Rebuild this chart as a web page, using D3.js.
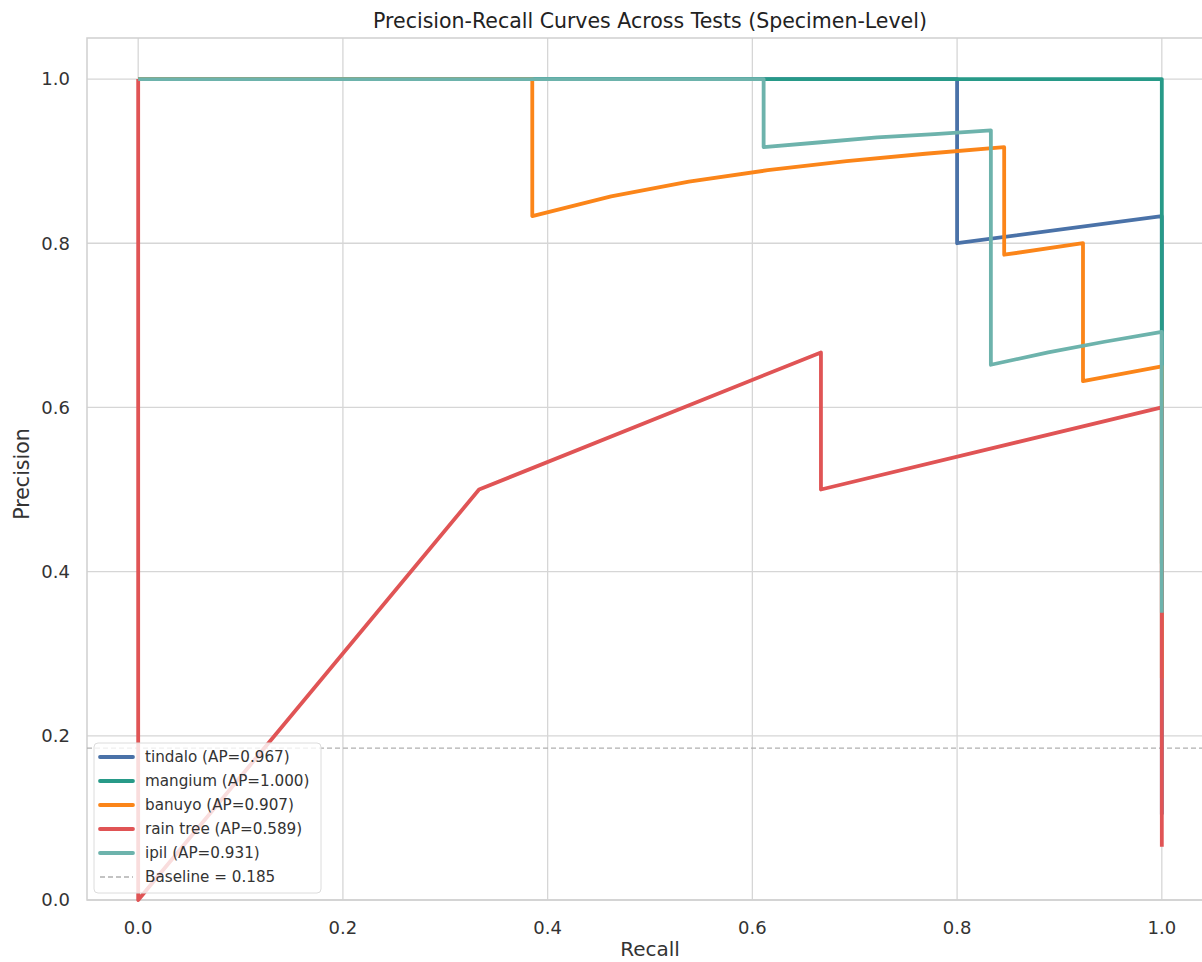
<!DOCTYPE html>
<html>
<head>
<meta charset="utf-8">
<script src="https://cdn.jsdelivr.net/npm/d3@7"></script>
<style>
  body { margin: 0; background: #fff; }
  text { font-family: "DejaVu Sans", sans-serif; }
</style>
</head>
<body>
<svg></svg>
<script>
// series: recall / precision pairs
let tindaloRecall    = [ 1.0, 1.0, 0.8, 0.8, 0.0 ]
let tindaloPrecision = [ 0.104, 0.833, 0.8, 1.0, 1.0 ]

let mangiumRecall    = [ 1.0, 1.0, 0.0 ]
let mangiumPrecision = [ 0.41, 1.0, 1.0 ]

let banuyoRecall    = [ 1.0, 1.0, 0.923, 0.923, 0.846, 0.846, 0.769, 0.692, 0.615, 0.538, 0.462, 0.385, 0.385, 0.0 ]
let banuyoPrecision = [ 0.27, 0.65, 0.632, 0.8, 0.786, 0.917, 0.909, 0.9, 0.889, 0.875, 0.857, 0.833, 1.0, 1.0 ]

let rainRecall    = [ 1.0, 1.0, 0.667, 0.667, 0.333, 0.0, 0.0 ]
let rainPrecision = [ 0.065, 0.6, 0.5, 0.667, 0.5, 0.0, 1.0 ]

let ipilRecall    = [ 1.0, 1.0, 0.944, 0.889, 0.833, 0.833, 0.778, 0.722, 0.667, 0.611, 0.611, 0.0 ]
let ipilPrecision = [ 0.35, 0.692, 0.68, 0.667, 0.652, 0.9375, 0.933, 0.929, 0.923, 0.917, 1.0, 1.0 ]

let seriesNames  = [ 'tindalo', 'mangium', 'banuyo', 'rain tree', 'ipil' ]
let seriesAP     = [ 0.967, 1.000, 0.907, 0.589, 0.931 ]
let seriesColors = [ '#4a72a8', '#279a88', '#fb8519', '#e05455', '#6db3ac' ]
let recalls      = [ tindaloRecall, mangiumRecall, banuyoRecall, rainRecall, ipilRecall ]
let precisions   = [ tindaloPrecision, mangiumPrecision, banuyoPrecision, rainPrecision, ipilPrecision ]

let baseline = 0.185
let ticks = [ 0.0, 0.2, 0.4, 0.6, 0.8, 1.0 ]

let width = 1202
let height = 962
let plotLeft = 87, plotRight = 1213, plotTop = 38, plotBottom = 900

const xScale =
d3.scaleLinear()
  .domain( [ -0.05, 1.05 ] )
  .range( [ plotLeft, plotRight ] )

const yScale =
d3.scaleLinear()
  .domain( [ 0, 1.05 ] )
  .range( [ plotBottom, plotTop ] )

let chart =
d3.select( 'svg' )
  .attr( 'width', width )
  .attr( 'height', height )

// grid
chart.append( 'g' )
  .selectAll( 'line' )
  .data( ticks )
  .enter()
  .append( 'line' )
  .attr( 'x1', d => xScale( d ) )
  .attr( 'x2', d => xScale( d ) )
  .attr( 'y1', plotTop )
  .attr( 'y2', plotBottom )
  .attr( 'stroke', '#d6d6d6' )
  .attr( 'stroke-width', 1.3 )

chart.append( 'g' )
  .selectAll( 'line' )
  .data( ticks )
  .enter()
  .append( 'line' )
  .attr( 'x1', plotLeft )
  .attr( 'x2', plotRight )
  .attr( 'y1', d => yScale( d ) )
  .attr( 'y2', d => yScale( d ) )
  .attr( 'stroke', '#d6d6d6' )
  .attr( 'stroke-width', 1.3 )

// spines
chart.append( 'rect' )
  .attr( 'x', plotLeft )
  .attr( 'y', plotTop )
  .attr( 'width', plotRight - plotLeft )
  .attr( 'height', plotBottom - plotTop )
  .attr( 'fill', 'none' )
  .attr( 'stroke', '#d0d0d0' )
  .attr( 'stroke-width', 1.5 )

// tick labels
chart.append( 'g' )
  .selectAll( 'text' )
  .data( ticks )
  .enter()
  .append( 'text' )
  .text( d => d.toFixed( 1 ) )
  .attr( 'x', d => xScale( d ) )
  .attr( 'y', plotBottom + 34 )
  .attr( 'text-anchor', 'middle' )
  .attr( 'font-size', 18 )
  .attr( 'fill', '#333' )

chart.append( 'g' )
  .selectAll( 'text' )
  .data( ticks )
  .enter()
  .append( 'text' )
  .text( d => d.toFixed( 1 ) )
  .attr( 'x', plotLeft - 17 )
  .attr( 'y', d => yScale( d ) )
  .attr( 'dy', '0.35em' )
  .attr( 'text-anchor', 'end' )
  .attr( 'font-size', 18 )
  .attr( 'fill', '#333' )

chart.append( 'text' )
  .text( 'Recall' )
  .attr( 'x', ( plotLeft + plotRight ) / 2 )
  .attr( 'y', 956 )
  .attr( 'text-anchor', 'middle' )
  .attr( 'font-size', 20 )
  .attr( 'fill', '#333' )

chart.append( 'text' )
  .text( 'Precision' )
  .attr( 'transform', 'translate(29,' + ( ( plotTop + plotBottom ) / 2 + 5 ) + ') rotate(-90)' )
  .attr( 'text-anchor', 'middle' )
  .attr( 'font-size', 20.5 )
  .attr( 'fill', '#333' )

chart.append( 'text' )
  .text( 'Precision-Recall Curves Across Tests (Specimen-Level)' )
  .attr( 'x', ( plotLeft + plotRight ) / 2 )
  .attr( 'y', 28 )
  .attr( 'text-anchor', 'middle' )
  .attr( 'font-size', 20.5 )
  .attr( 'fill', '#222' )

// baseline
chart.append( 'line' )
  .attr( 'x1', plotLeft )
  .attr( 'x2', plotRight )
  .attr( 'y1', yScale( baseline ) )
  .attr( 'y2', yScale( baseline ) )
  .attr( 'stroke', '#b0b0b0' )
  .attr( 'stroke-width', 1.3 )
  .attr( 'stroke-dasharray', '5,3' )

// curves
let line =
d3.line()
  .x( d => xScale( d[ 0 ] ) )
  .y( d => yScale( d[ 1 ] ) )

chart.append( 'g' )
  .selectAll( 'path' )
  .data( seriesNames )
  .enter()
  .append( 'path' )
  .attr( 'd', ( d, i ) => line( d3.zip( recalls[ i ], precisions[ i ] ) ) )
  .attr( 'fill', 'none' )
  .attr( 'stroke', ( d, i ) => seriesColors[ i ] )
  .attr( 'stroke-width', 3.8 )
  .attr( 'stroke-linejoin', 'round' )

// legend
let legendItems = seriesNames.map( ( d, i ) => ( { label: d + ' (AP=' + seriesAP[ i ].toFixed( 3 ) + ')', color: seriesColors[ i ], dash: null } ) )
legendItems.push( { label: 'Baseline = ' + baseline, color: '#b0b0b0', dash: '5,3' } )

let legend = chart.append( 'g' )

legend.append( 'rect' )
  .attr( 'x', 94 )
  .attr( 'y', 743 )
  .attr( 'width', 227 )
  .attr( 'height', 150 )
  .attr( 'rx', 4 )
  .attr( 'fill', 'rgba(255,255,255,0.8)' )
  .attr( 'stroke', '#dcdcdc' )
  .attr( 'stroke-width', 1 )

let rows =
legend.selectAll( 'g.row' )
  .data( legendItems )
  .enter()
  .append( 'g' )
  .attr( 'transform', ( d, i ) => 'translate(0,' + ( 757 + i * 24 ) + ')' )

rows.append( 'line' )
  .attr( 'x1', 100 )
  .attr( 'x2', 133 )
  .attr( 'stroke', d => d.color )
  .attr( 'stroke-width', d => d.dash ? 1.3 : 3.8 )
  .attr( 'stroke-dasharray', d => d.dash )
  .attr( 'stroke-linecap', d => d.dash ? 'butt' : 'round' )

rows.append( 'text' )
  .text( d => d.label )
  .attr( 'x', 145 )
  .attr( 'dy', '0.35em' )
  .attr( 'font-size', 15.2 )
  .attr( 'fill', '#333' )
</script>
</body>
</html>
